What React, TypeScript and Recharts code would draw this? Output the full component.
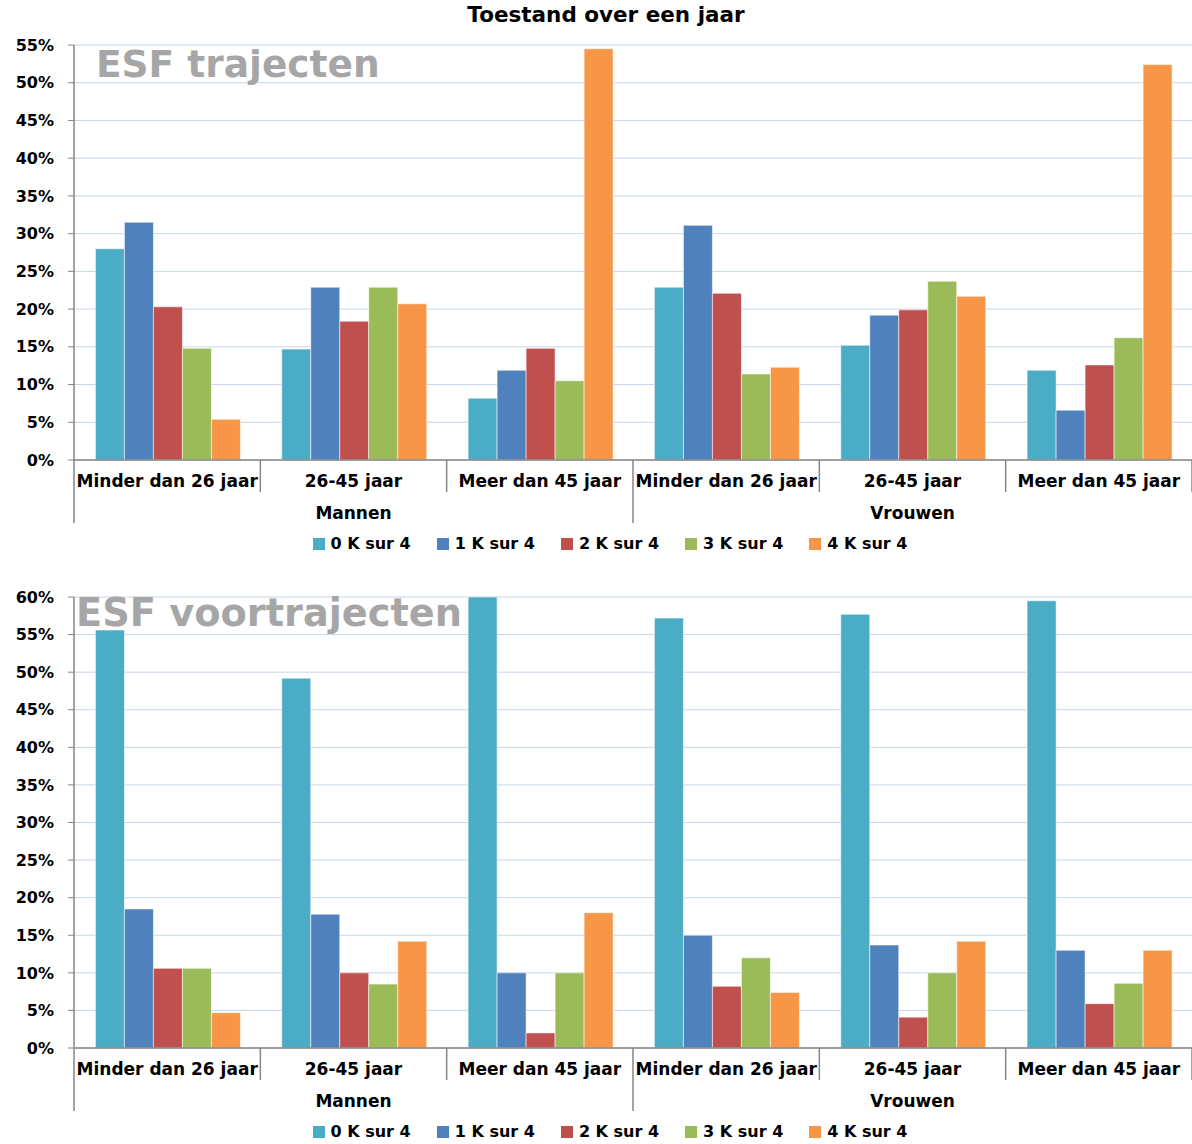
import React from 'react';
import { BarChart, Bar, XAxis, YAxis, CartesianGrid } from 'recharts';

const categories = ['Minder dan 26 jaar', '26-45 jaar', 'Meer dan 45 jaar', 'Minder dan 26 jaar', '26-45 jaar', 'Meer dan 45 jaar'];
const groups = ['Mannen', 'Vrouwen'];
const seriesNames = ['0 K sur 4', '1 K sur 4', '2 K sur 4', '3 K sur 4', '4 K sur 4'];
const seriesColors = ['#4bacc6', '#4f81bd', '#c0504d', '#9bbb59', '#f79646'];

// ESF trajecten (%)
const traject0 = [28.0, 14.7, 8.2, 22.9, 15.2, 11.9];
const traject1 = [31.5, 22.9, 11.9, 31.1, 19.2, 6.6];
const traject2 = [20.3, 18.4, 14.8, 22.1, 19.9, 12.6];
const traject3 = [14.8, 22.9, 10.5, 11.4, 23.7, 16.2];
const traject4 = [5.4, 20.7, 54.5, 12.3, 21.7, 52.4];

// ESF voortrajecten (%)
const voor0 = [55.6, 49.2, 60.0, 57.2, 57.7, 59.5];
const voor1 = [18.5, 17.8, 10.0, 15.0, 13.7, 13.0];
const voor2 = [10.6, 10.0, 2.0, 8.2, 4.1, 5.9];
const voor3 = [10.6, 8.5, 10.0, 12.0, 10.0, 8.6];
const voor4 = [4.7, 14.2, 18.0, 7.4, 14.2, 13.0];

const ticksTop = [0, 5, 10, 15, 20, 25, 30, 35, 40, 45, 50, 55];
const ticksBottom = [0, 5, 10, 15, 20, 25, 30, 35, 40, 45, 50, 55, 60];

const W = 1192;
const AXIS_W = 74;
const BAND = (W - AXIS_W) / categories.length;
const FONT = "'DejaVu Sans', Verdana, sans-serif";
const AXIS_COLOR = '#868686';

function buildRows(series: number[][]) {
  return categories.map((c, i) => {
    const row: Record<string, number | string> = { idx: i, name: c };
    series.forEach((s, k) => {
      row['s' + k] = s[i];
    });
    return row;
  });
}

const CategoryTick = (props: any) => {
  const { x, y, payload } = props;
  const i = payload.index;
  const half = BAND / 2;
  return (
    <g>
      <text x={x} y={y + 27} textAnchor="middle" fontSize={17} fontWeight="bold" fill="#000" fontFamily={FONT}>
        {categories[i]}
      </text>
      <line x1={x + half} x2={x + half} y1={y} y2={y + (i === 2 ? 63 : 32)} stroke={AXIS_COLOR} strokeWidth={1.5} />
      {i === 0 && <line x1={x - half} x2={x - half} y1={y} y2={y + 63} stroke={AXIS_COLOR} strokeWidth={1.5} />}
      {(i === 1 || i === 4) && (
        <text x={x} y={y + 59} textAnchor="middle" fontSize={17} fontWeight="bold" fill="#000" fontFamily={FONT}>
          {groups[i === 1 ? 0 : 1]}
        </text>
      )}
    </g>
  );
};

function Legend({ top }: { top: number }) {
  return (
    <div
      style={{
        position: 'absolute',
        top,
        left: 14,
        width: W,
        display: 'flex',
        justifyContent: 'center',
        fontFamily: FONT,
        fontWeight: 'bold',
        fontSize: 16,
        lineHeight: '18px',
      }}
    >
      {seriesNames.map((n, k) => (
        <div key={n} style={{ display: 'flex', alignItems: 'center', margin: '0 13px' }}>
          <span style={{ width: 12, height: 12, background: seriesColors[k], marginRight: 6, display: 'inline-block' }} />
          <span>{n}</span>
        </div>
      ))}
    </div>
  );
}

interface PanelProps {
  series: number[][];
  max: number;
  ticks: number[];
  height: number;
  marginTop: number;
  marginBottom: number;
}

function Panel({ series, max, ticks, height, marginTop, marginBottom }: PanelProps) {
  const data = buildRows(series);
  return (
    <BarChart
      width={W}
      height={height}
      data={data}
      margin={{ top: marginTop, right: 0, left: 0, bottom: marginBottom }}
      barCategoryGap="11.5%"
      barGap={0}
    >
      <CartesianGrid vertical={false} stroke="#c8d5ea" strokeWidth={1} />
      <XAxis
        dataKey="idx"
        type="category"
        height={60}
        tickSize={0}
        tickMargin={0}
        tickLine={false}
        interval={0}
        axisLine={{ stroke: AXIS_COLOR, strokeWidth: 1.5 }}
        tick={<CategoryTick />}
      />
      <YAxis
        width={AXIS_W}
        domain={[0, max]}
        ticks={ticks}
        interval={0}
        allowDataOverflow
        tickSize={6}
        tickMargin={14}
        tickLine={{ stroke: AXIS_COLOR }}
        axisLine={{ stroke: AXIS_COLOR, strokeWidth: 1.5 }}
        tickFormatter={(v: number) => `${v}%`}
        tick={{ fill: '#000', fontSize: 16, fontWeight: 'bold', fontFamily: FONT }}
      />
      {seriesNames.map((n, k) => (
        <Bar
          key={n}
          dataKey={'s' + k}
          name={n}
          fill={seriesColors[k]}
          stroke="rgba(255,255,255,0.55)"
          strokeWidth={1}
          isAnimationActive={false}
        />
      ))}
    </BarChart>
  );
}

export default function App() {
  return (
    <div style={{ position: 'absolute', left: 0, top: 0, width: W, height: 1144, background: '#fff', fontFamily: FONT }}>
      <div
        style={{
          position: 'absolute',
          top: 2,
          left: 0,
          width: 1212,
          textAlign: 'center',
          fontWeight: 'bold',
          fontSize: 21.5,
          lineHeight: '26px',
        }}
      >
        Toestand over een jaar
      </div>

      <div style={{ position: 'absolute', top: 0, left: 0 }}>
        <Panel series={[traject0, traject1, traject2, traject3, traject4]} max={55} ticks={ticksTop} height={560} marginTop={45} marginBottom={40} />
      </div>
      <div style={{ position: 'absolute', top: 42, left: 96, fontSize: 37.5, fontWeight: 'bold', color: '#a6a6a6', lineHeight: '44px', whiteSpace: 'nowrap' }}>
        ESF trajecten
      </div>
      <Legend top={535} />

      <div style={{ position: 'absolute', top: 560, left: 0 }}>
        <Panel series={[voor0, voor1, voor2, voor3, voor4]} max={60} ticks={ticksBottom} height={584} marginTop={37} marginBottom={36} />
      </div>
      <div style={{ position: 'absolute', top: 591, left: 76, fontSize: 38.3, fontWeight: 'bold', color: '#a6a6a6', lineHeight: '44px', whiteSpace: 'nowrap' }}>
        ESF voortrajecten
      </div>
      <Legend top={1123} />
    </div>
  );
}
